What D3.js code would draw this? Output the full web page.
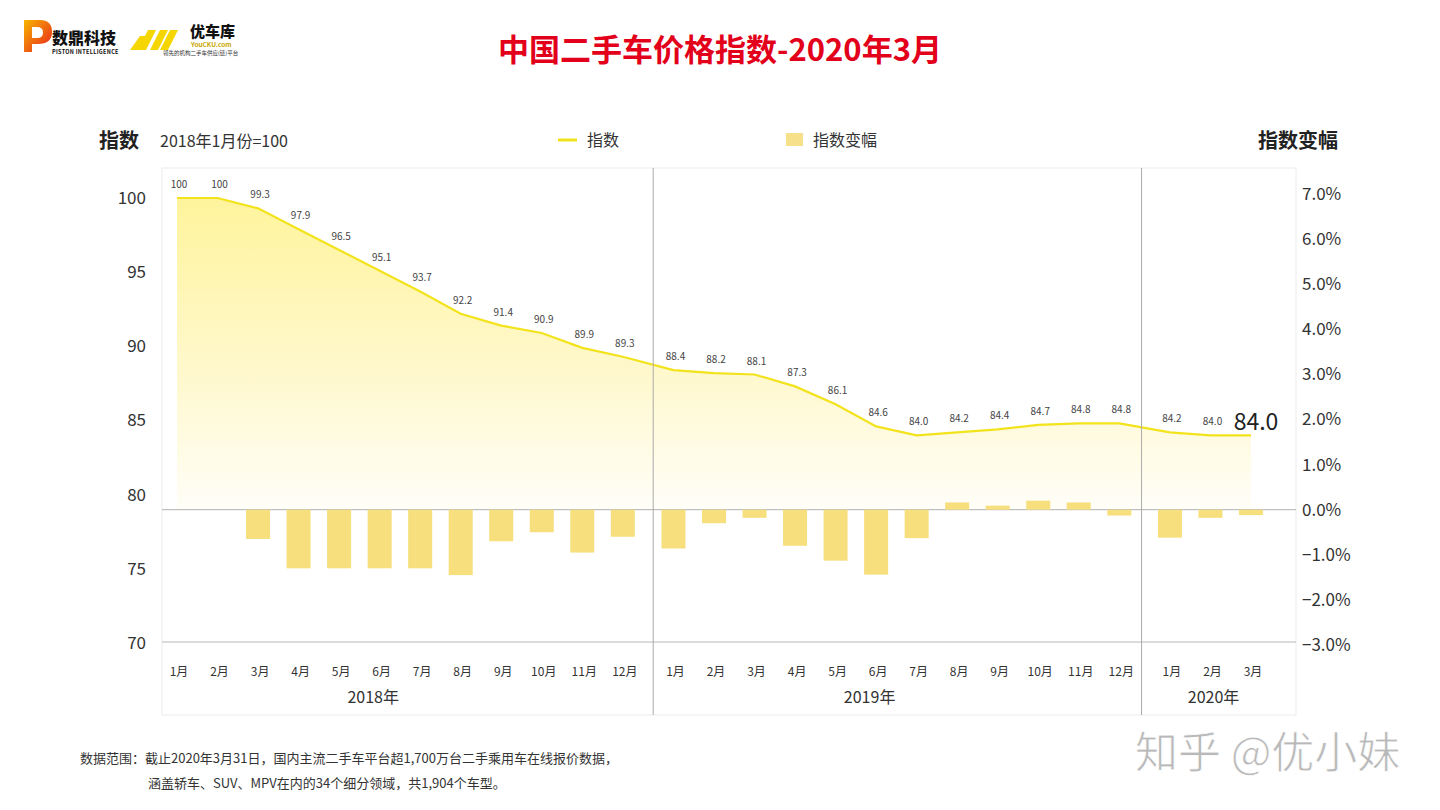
<!DOCTYPE html>
<html>
<head>
<meta charset="utf-8">
<script src="https://cdn.jsdelivr.net/npm/d3@7"></script>
<style>
  html, body { margin:0; padding:0; background:#fff; }
  svg text { font-family: "Noto Sans CJK SC", "Noto Sans", sans-serif; }
</style>
</head>
<body>
<svg id="chart" width="1440" height="810"></svg>
<script>
// ---------------- data ----------------
const years = ["2018年", "2019年", "2020年"];
const monthsPerYear = [12, 12, 3];
const monthLabels = ["1月","2月","3月","4月","5月","6月","7月","8月","9月","10月","11月","12月",
                     "1月","2月","3月","4月","5月","6月","7月","8月","9月","10月","11月","12月",
                     "1月","2月","3月"];
const indexValues = [100, 100, 99.3, 97.9, 96.5, 95.1, 93.7, 92.2, 91.4, 90.9, 89.9, 89.3,
                     88.4, 88.2, 88.1, 87.3, 86.1, 84.6, 84.0, 84.2, 84.4, 84.7, 84.8, 84.8,
                     84.2, 84.0, 84.0];
const indexLabels = ["100","100","99.3","97.9","96.5","95.1","93.7","92.2","91.4","90.9","89.9","89.3",
                     "88.4","88.2","88.1","87.3","86.1","84.6","84.0","84.2","84.4","84.7","84.8","84.8",
                     "84.2","84.0","84.0"];
const changeValues = [0, 0, -0.65, -1.3, -1.3, -1.3, -1.3, -1.45, -0.7, -0.5, -0.95, -0.6,
                      -0.86, -0.3, -0.18, -0.8, -1.13, -1.44, -0.63, 0.16, 0.09, 0.2, 0.16, -0.13,
                      -0.62, -0.18, -0.12];
const leftTicks = [100, 95, 90, 85, 80, 75, 70];
const rightTicks = [7, 6, 5, 4, 3, 2, 1, 0, -1, -2, -3];

// ---------------- layout ----------------
const svg = d3.select("#chart");
const frame = {left:162, right:1296, top:168, bottom:715};

// slot positions (months with a gap between years)
const slots = [];
monthsPerYear.forEach((n, yi) => {
  for (let k = 0; k < n; k++) { slots.push(slots.length + 0.25 * yi); }
});
const x = d3.scaleLinear().domain([0, 26.5]).range([177, 1251]);
const yL = d3.scaleLinear().domain([70, 100]).range([643, 198]);
const yR = d3.scaleLinear().domain([-3, 7]).range([645, 194]);

// ---------------- defs ----------------
const defs = svg.append("defs");
const grad = defs.append("linearGradient").attr("id","areaGrad")
  .attr("gradientUnits","userSpaceOnUse").attr("x1",0).attr("y1",yL(100)).attr("x2",0).attr("y2",yR(0));
grad.append("stop").attr("offset","0%").attr("stop-color","#fff49c");
grad.append("stop").attr("offset","55%").attr("stop-color","#fff8cc");
grad.append("stop").attr("offset","100%").attr("stop-color","#fffef8");

const pGrad = defs.append("linearGradient").attr("id","pGrad").attr("x1",0).attr("y1",0).attr("x2",1).attr("y2",1);
pGrad.append("stop").attr("offset","0%").attr("stop-color","#f7b500");
pGrad.append("stop").attr("offset","100%").attr("stop-color","#e8201e");

// ---------------- logos (decorative) ----------------
const logo = svg.append("g");
logo.append("path").attr("d","M24 20 L40 20 Q52 20 52 32 Q52 44 38 44 L32 44 L32 52 L24 52 Z M32 27 L32 38 L37 38 Q43 38 43 32.5 Q43 27 37 27 Z")
  .attr("fill","url(#pGrad)").attr("fill-rule","evenodd");
logo.append("text").attr("x",52).attr("y",44).attr("font-size",16).attr("font-weight",900).attr("fill","#111").text("数鼎科技");
logo.append("text").attr("x",52).attr("y",54).attr("font-size",5.5).attr("font-weight",700).attr("fill","#111").attr("letter-spacing",0.3).text("PISTON INTELLIGENCE");
logo.append("path").attr("d","M138 50 L148 30 L156 30 L146 50 Z M150 50 L160 30 L168 30 L158 50 Z M160 50 L170 30 L178 30 L168 50 Z M130 50 L140 36 L146 36 L138 50 Z").attr("fill","#f5d600");
logo.append("text").attr("x",190).attr("y",37).attr("font-size",15).attr("font-weight",900).attr("fill","#111").text("优车库");
logo.append("text").attr("x",191).attr("y",47).attr("font-size",6.5).attr("font-weight",700).attr("fill","#c9a600").text("YouCKU.com");
logo.append("text").attr("x",163).attr("y",55).attr("font-size",5.5).attr("fill","#333").text("领先的机构二手车供应(链)平台");

// ---------------- title ----------------
svg.append("text").attr("x",720).attr("y",61).attr("text-anchor","middle")
  .attr("font-size",31).attr("font-weight",700).attr("fill","#e2001a").text("中国二手车价格指数-2020年3月");

// ---------------- header / legend ----------------
svg.append("text").attr("x",99).attr("y",148).attr("font-size",20).attr("font-weight",700).attr("fill","#222").text("指数");
svg.append("text").attr("x",160).attr("y",147).attr("font-size",16).attr("fill","#333").text("2018年1月份=100");
svg.append("line").attr("x1",558).attr("x2",577).attr("y1",140).attr("y2",140).attr("stroke","#f0e21a").attr("stroke-width",3);
svg.append("text").attr("x",587).attr("y",146).attr("font-size",16).attr("fill","#333").text("指数");
svg.append("rect").attr("x",786).attr("y",133).attr("width",17).attr("height",13).attr("fill","#f6e08a");
svg.append("text").attr("x",813).attr("y",146).attr("font-size",16).attr("fill","#333").text("指数变幅");
svg.append("text").attr("x",1338).attr("y",148).attr("text-anchor","end").attr("font-size",20).attr("font-weight",700).attr("fill","#222").text("指数变幅");

// ---------------- frame ----------------
svg.append("rect").attr("x",frame.left).attr("y",frame.top)
  .attr("width",frame.right-frame.left).attr("height",frame.bottom-frame.top)
  .attr("fill","none").attr("stroke","#ececec").attr("stroke-width",1);

// ---------------- area + line ----------------
const pts = indexValues.map((v,i) => ({x: x(slots[i]), v}));
const area = d3.area().x(d => d.x).y0(yR(0)).y1(d => yL(d.v));
svg.append("path").datum(pts).attr("d", area).attr("fill","url(#areaGrad)");

// gridlines
svg.append("line").attr("x1",frame.left).attr("x2",frame.right).attr("y1",yR(0)).attr("y2",yR(0)).attr("stroke","#b0b0b0").attr("stroke-width",1);
svg.append("line").attr("x1",frame.left).attr("x2",frame.right).attr("y1",yL(70)-1).attr("y2",yL(70)-1).attr("stroke","#b8b8b8").attr("stroke-width",1);

// bars
const barW = 24;
svg.append("g").selectAll("rect").data(changeValues).join("rect")
  .attr("x",(d,i) => x(slots[i]) - barW/2)
  .attr("y",d => d >= 0 ? yR(d) : yR(0))
  .attr("width",barW)
  .attr("height",d => Math.abs(yR(d) - yR(0)))
  .attr("fill","#f6df7c");

// line
const line = d3.line().x(d => d.x).y(d => yL(d.v));
svg.append("path").datum(pts).attr("d", line).attr("fill","none").attr("stroke","#f2e31c").attr("stroke-width",2.2);

// data labels
svg.append("g").selectAll("text").data(pts).join("text")
  .attr("x",(d,i) => d.x + (i === pts.length-1 ? 5 : 2))
  .attr("y",(d,i) => i === pts.length-1 ? yL(d.v) - 5 : yL(d.v) - 10)
  .attr("text-anchor","middle")
  .attr("font-size",(d,i) => i === pts.length-1 ? 23 : 10)
  .attr("fill",(d,i) => i === pts.length-1 ? "#222" : "#444")
  .text((d,i) => indexLabels[i]);

// year separators
const sepSlots = [11.75, 23.8];
svg.append("g").selectAll("line").data(sepSlots).join("line")
  .attr("x1",d => x(d)).attr("x2",d => x(d)).attr("y1",frame.top).attr("y2",frame.bottom)
  .attr("stroke","#aaaaaa").attr("stroke-width",1);

// ---------------- axes ----------------
const leftAxis = d3.axisLeft(yL).tickValues(leftTicks).tickSize(0).tickPadding(0).tickFormat(d3.format("d"));
const gL = svg.append("g").attr("transform","translate(146,0)").call(leftAxis);
gL.select(".domain").remove();
gL.selectAll("text").attr("font-size",17).attr("fill","#333").attr("font-family","'Noto Sans CJK SC', sans-serif");

const rightAxis = d3.axisRight(yR).tickValues(rightTicks).tickSize(0).tickPadding(0).tickFormat(d => d3.format(".1f")(d) + "%");
const gR = svg.append("g").attr("transform","translate(1302,0)").call(rightAxis);
gR.select(".domain").remove();
gR.selectAll("text").attr("font-size",17).attr("fill","#333").attr("font-family","'Noto Sans CJK SC', sans-serif");

// month labels
svg.append("g").selectAll("text").data(monthLabels).join("text")
  .attr("x",(d,i) => x(slots[i]) + 2).attr("y",676).attr("text-anchor","middle")
  .attr("font-size",12).attr("fill","#333").text(d => d);

// year labels
let start = 0;
const yearPos = monthsPerYear.map(n => { const a = slots[start], b = slots[start+n-1]; start += n; return (a+b)/2 - 0.06*(n-1); });
svg.append("g").selectAll("text").data(years).join("text")
  .attr("x",(d,i) => x(yearPos[i]) + (i === 2 ? 8 : 0)).attr("y",703).attr("text-anchor","middle")
  .attr("font-size",16).attr("fill","#333").text(d => d);

// ---------------- footnote ----------------
svg.append("text").attr("x",80).attr("y",763).attr("font-size",13).attr("fill","#333")
  .text("数据范围：截止2020年3月31日，国内主流二手车平台超1,700万台二手乘用车在线报价数据，");
svg.append("text").attr("x",148).attr("y",788).attr("font-size",13).attr("fill","#333")
  .text("涵盖轿车、SUV、MPV在内的34个细分领域，共1,904个车型。");

// ---------------- watermark ----------------
svg.append("text").attr("x",1135).attr("y",768).attr("font-size",43).attr("fill","#b9b9b9")
  .attr("stroke","#ffffff").attr("stroke-width",0.8).text("知乎 @优小妹");
</script>
</body>
</html>
